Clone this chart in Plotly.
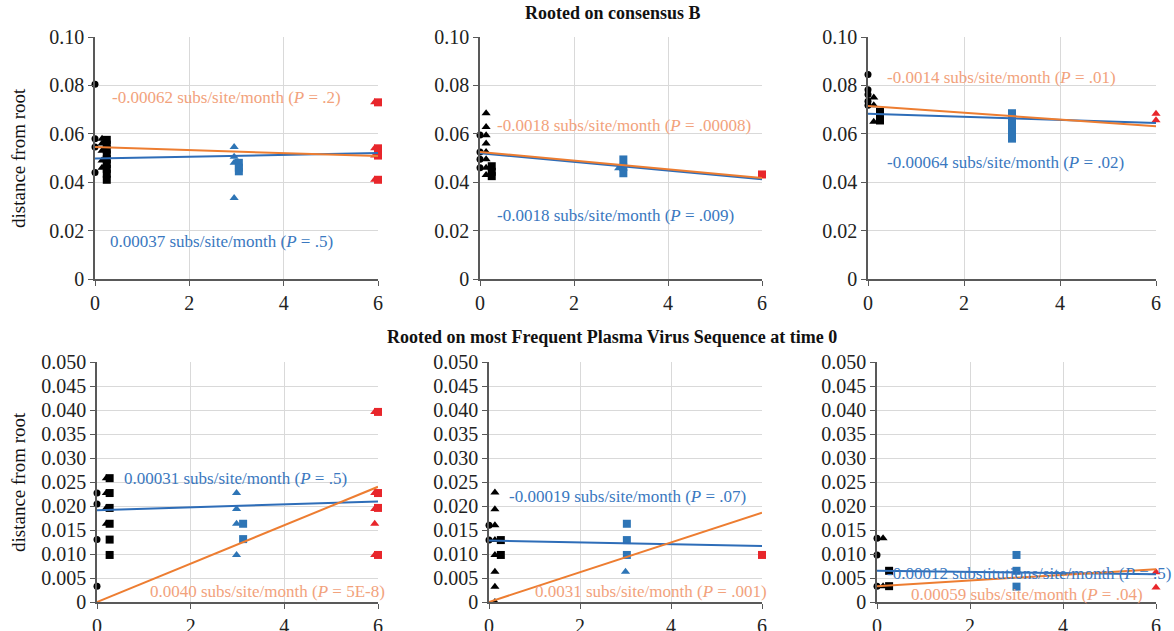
import plotly.graph_objects as go

W, H = 1174, 631

# ---------------- data (months, distance from root) ----------------
# Top row: rooted on consensus B
tl_t0_circle_x = [0, 0, 0, 0]
tl_t0_circle_y = [0.0805, 0.058, 0.0545, 0.044]
tl_t0_tri_x = [0.15, 0.15, 0.15, 0.15, 0.15]
tl_t0_tri_y = [0.058, 0.056, 0.053, 0.049, 0.046]
tl_t0_sq_x = [0.25] * 9
tl_t0_sq_y = [0.0575, 0.0555, 0.0535, 0.0515, 0.0495, 0.0475, 0.0455, 0.0435, 0.041]
tl_m3_tri_x = [2.95, 2.95, 2.95, 2.95]
tl_m3_tri_y = [0.0545, 0.0505, 0.048, 0.0335]
tl_m3_sq_x = [3.05, 3.05, 3.05]
tl_m3_sq_y = [0.048, 0.046, 0.0445]
tl_m6_tri_x = [5.93, 5.93, 5.93, 5.93]
tl_m6_tri_y = [0.073, 0.054, 0.051, 0.041]
tl_m6_sq_x = [6.0, 6.0, 6.0, 6.0]
tl_m6_sq_y = [0.073, 0.054, 0.051, 0.041]

tm_t0_circle_x = [0, 0, 0, 0]
tm_t0_circle_y = [0.0595, 0.0525, 0.0495, 0.046]
tm_t0_tri_x = [0.13] * 8
tm_t0_tri_y = [0.0685, 0.0628, 0.0594, 0.056, 0.0525, 0.0495, 0.046, 0.043]
tm_t0_sq_x = [0.25, 0.25, 0.25]
tm_t0_sq_y = [0.0466, 0.0443, 0.0425]
tm_m3_tri_x = [2.95]
tm_m3_tri_y = [0.0458]
tm_m3_sq_x = [3.05, 3.05, 3.05]
tm_m3_sq_y = [0.0494, 0.0463, 0.0437]
tm_m6_tri_x = []
tm_m6_tri_y = []
tm_m6_sq_x = [6.0]
tm_m6_sq_y = [0.0432]

tr_t0_circle_x = [0, 0, 0, 0, 0]
tr_t0_circle_y = [0.0845, 0.0782, 0.0762, 0.0735, 0.0718]
tr_t0_tri_x = [0.12, 0.12, 0.12]
tr_t0_tri_y = [0.075, 0.0718, 0.065]
tr_t0_sq_x = [0.25, 0.25, 0.25]
tr_t0_sq_y = [0.069, 0.0672, 0.0655]
tr_m3_tri_x = []
tr_m3_tri_y = []
tr_m3_sq_x = [3.0] * 5
tr_m3_sq_y = [0.0685, 0.066, 0.0635, 0.0605, 0.058]
tr_m6_tri_x = [6.0, 6.0]
tr_m6_tri_y = [0.0683, 0.0656]
tr_m6_sq_x = []
tr_m6_sq_y = []

# Bottom row: rooted on most frequent plasma virus sequence at time 0
bl_t0_circle_x = [0, 0, 0, 0]
bl_t0_circle_y = [0.0227, 0.0204, 0.013, 0.0033]
bl_t0_tri_x = [0.2, 0.2, 0.2, 0.2]
bl_t0_tri_y = [0.0258, 0.0227, 0.0196, 0.0163]
bl_t0_sq_x = [0.27] * 6
bl_t0_sq_y = [0.0258, 0.0227, 0.0196, 0.0163, 0.013, 0.0098]
bl_m3_tri_x = [2.98, 2.98, 2.98, 2.98]
bl_m3_tri_y = [0.0227, 0.0194, 0.0163, 0.0098]
bl_m3_sq_x = [3.12, 3.12]
bl_m3_sq_y = [0.0163, 0.0131]
bl_m6_tri_x = [5.93] * 5
bl_m6_tri_y = [0.0396, 0.0227, 0.0194, 0.0163, 0.0098]
bl_m6_sq_x = [6.0] * 4
bl_m6_sq_y = [0.0396, 0.0227, 0.0196, 0.0098]

bm_t0_circle_x = [0, 0]
bm_t0_circle_y = [0.016, 0.0129]
bm_t0_tri_x = [0.13] * 8
bm_t0_tri_y = [0.0228, 0.0193, 0.016, 0.0129, 0.0098, 0.0063, 0.0032, 0.0]
bm_t0_sq_x = [0.26, 0.26]
bm_t0_sq_y = [0.0129, 0.0098]
bm_m3_tri_x = [3.0]
bm_m3_tri_y = [0.0063]
bm_m3_sq_x = [3.03, 3.03, 3.03]
bm_m3_sq_y = [0.0163, 0.0129, 0.0098]
bm_m6_tri_x = []
bm_m6_tri_y = []
bm_m6_sq_x = [6.0]
bm_m6_sq_y = [0.0098]

br_t0_circle_x = [0, 0, 0]
br_t0_circle_y = [0.0133, 0.0098, 0.0033]
br_t0_tri_x = [0.13, 0.13]
br_t0_tri_y = [0.0133, 0.0033]
br_t0_sq_x = [0.26, 0.26]
br_t0_sq_y = [0.0065, 0.0033]
br_m3_tri_x = []
br_m3_tri_y = []
br_m3_sq_x = [3.0, 3.0, 3.0]
br_m3_sq_y = [0.0098, 0.0065, 0.0032]
br_m6_tri_x = [6.0, 6.0]
br_m6_tri_y = [0.0062, 0.003]
br_m6_sq_x = []
br_m6_sq_y = []

# regression fits: intercept, slope (subs/site/month)
tl_fit_orange = (0.0545, -0.00062)
tl_fit_blue = (0.0498, 0.00037)
tm_fit_orange = (0.0525, -0.0018)
tm_fit_blue = (0.0520, -0.0018)
tr_fit_orange = (0.0715, -0.0014)
tr_fit_blue = (0.0683, -0.00064)
bl_fit_orange = (0.0, 0.0040)
bl_fit_blue = (0.0191, 0.00031)
bm_fit_orange = (0.0, 0.0031)
bm_fit_blue = (0.0128, -0.00019)
br_fit_orange = (0.0033, 0.00059)
br_fit_blue = (0.0065, -0.00012)

fit_x = [0, 6]

tl_label_orange = "-0.00062 subs/site/month (<i>P</i> = .2)"
tl_label_blue = "0.00037 subs/site/month (<i>P</i> = .5)"
tm_label_orange = "-0.0018 subs/site/month (<i>P</i> = .00008)"
tm_label_blue = "-0.0018 subs/site/month (<i>P</i> = .009)"
tr_label_orange = "-0.0014 subs/site/month (<i>P</i> = .01)"
tr_label_blue = "-0.00064 subs/site/month (<i>P</i> = .02)"
bl_label_blue = "0.00031 subs/site/month (<i>P</i> = .5)"
bl_label_orange = "0.0040 subs/site/month (<i>P</i> = 5E-8)"
bm_label_blue = "-0.00019 subs/site/month (<i>P</i> = .07)"
bm_label_orange = "0.0031 subs/site/month (<i>P</i> = .001)"
br_label_blue = "-0.00012 substitutions/site/month (<i>P</i> = .5)"
br_label_orange = "0.00059 subs/site/month (<i>P</i> = .04)"

top_title = "Rooted on consensus B"
bottom_title = "Rooted on most Frequent Plasma Virus Sequence at time 0"
y_title = "distance from root"

top_yticks = [0, 0.02, 0.04, 0.06, 0.08, 0.10]
top_yticktext = ["0", "0.02", "0.04", "0.06", "0.08", "0.10"]
bot_yticks = [0, 0.005, 0.01, 0.015, 0.02, 0.025, 0.03, 0.035, 0.04, 0.045, 0.05]
bot_yticktext = ["0", "0.005", "0.010", "0.015", "0.020", "0.025", "0.030",
                 "0.035", "0.040", "0.045", "0.050"]
xticks = [0, 2, 4, 6]

# ---------------- styling ----------------
FONT = "Liberation Serif"
BLACK = "#000000"
BLUE_M = "#2E75B6"
RED_M = "#E8262B"
ORANGE_L = "#ED7D31"
BLUE_L = "#2E6DB8"
ORANGE_T = "#F2A27C"
BLUE_T = "#3A78C0"
AX = "#595959"
GRID = "#D9D9D9"
TICK_SIZE = 20
NOTE_SIZE = 17


def px(x):
    return x / W


def py(y):
    return 1 - y / H


# panel pixel boxes: (x_left, x_right, y_top, y_bottom)
boxes = [
    (95, 378, 37, 279), (480, 762, 37, 279), (868, 1156, 37, 279),
    (97, 378, 362, 602), (489, 762, 362, 602), (877, 1156, 362, 602),
]

panels = [
    dict(pts=[(tl_t0_circle_x, tl_t0_circle_y, BLACK, "circle"),
              (tl_t0_tri_x, tl_t0_tri_y, BLACK, "triangle-up"),
              (tl_t0_sq_x, tl_t0_sq_y, BLACK, "square"),
              (tl_m3_tri_x, tl_m3_tri_y, BLUE_M, "triangle-up"),
              (tl_m3_sq_x, tl_m3_sq_y, BLUE_M, "square"),
              (tl_m6_tri_x, tl_m6_tri_y, RED_M, "triangle-up"),
              (tl_m6_sq_x, tl_m6_sq_y, RED_M, "square")],
         fits=[tl_fit_blue, tl_fit_orange],
         labels=[(tl_label_orange, ORANGE_T, 0.32, 0.0751), (tl_label_blue, BLUE_T, 0.28, 0.0157)]),
    dict(pts=[(tm_t0_circle_x, tm_t0_circle_y, BLACK, "circle"),
              (tm_t0_tri_x, tm_t0_tri_y, BLACK, "triangle-up"),
              (tm_t0_sq_x, tm_t0_sq_y, BLACK, "square"),
              (tm_m3_tri_x, tm_m3_tri_y, BLUE_M, "triangle-up"),
              (tm_m3_sq_x, tm_m3_sq_y, BLUE_M, "square"),
              (tm_m6_tri_x, tm_m6_tri_y, RED_M, "triangle-up"),
              (tm_m6_sq_x, tm_m6_sq_y, RED_M, "square")],
         fits=[tm_fit_blue, tm_fit_orange],
         labels=[(tm_label_orange, ORANGE_T, 0.32, 0.0635), (tm_label_blue, BLUE_T, 0.32, 0.0264)]),
    dict(pts=[(tr_t0_circle_x, tr_t0_circle_y, BLACK, "circle"),
              (tr_t0_tri_x, tr_t0_tri_y, BLACK, "triangle-up"),
              (tr_t0_sq_x, tr_t0_sq_y, BLACK, "square"),
              (tr_m3_tri_x, tr_m3_tri_y, BLUE_M, "triangle-up"),
              (tr_m3_sq_x, tr_m3_sq_y, BLUE_M, "square"),
              (tr_m6_tri_x, tr_m6_tri_y, RED_M, "triangle-up"),
              (tr_m6_sq_x, tr_m6_sq_y, RED_M, "square")],
         fits=[tr_fit_blue, tr_fit_orange],
         labels=[(tr_label_orange, ORANGE_T, 0.35, 0.0833), (tr_label_blue, BLUE_T, 0.35, 0.0482)]),
    dict(pts=[(bl_t0_circle_x, bl_t0_circle_y, BLACK, "circle"),
              (bl_t0_tri_x, bl_t0_tri_y, BLACK, "triangle-up"),
              (bl_t0_sq_x, bl_t0_sq_y, BLACK, "square"),
              (bl_m3_tri_x, bl_m3_tri_y, BLUE_M, "triangle-up"),
              (bl_m3_sq_x, bl_m3_sq_y, BLUE_M, "square"),
              (bl_m6_tri_x, bl_m6_tri_y, RED_M, "triangle-up"),
              (bl_m6_sq_x, bl_m6_sq_y, RED_M, "square")],
         fits=[bl_fit_blue, bl_fit_orange],
         labels=[(bl_label_blue, BLUE_T, 0.53, 0.0258), (bl_label_orange, ORANGE_T, 1.09, 0.0021)]),
    dict(pts=[(bm_t0_circle_x, bm_t0_circle_y, BLACK, "circle"),
              (bm_t0_tri_x, bm_t0_tri_y, BLACK, "triangle-up"),
              (bm_t0_sq_x, bm_t0_sq_y, BLACK, "square"),
              (bm_m3_tri_x, bm_m3_tri_y, BLUE_M, "triangle-up"),
              (bm_m3_sq_x, bm_m3_sq_y, BLUE_M, "square"),
              (bm_m6_tri_x, bm_m6_tri_y, RED_M, "triangle-up"),
              (bm_m6_sq_x, bm_m6_sq_y, RED_M, "square")],
         fits=[bm_fit_blue, bm_fit_orange],
         labels=[(bm_label_blue, BLUE_T, 0.40, 0.0219), (bm_label_orange, ORANGE_T, 0.97, 0.0021)]),
    dict(pts=[(br_t0_circle_x, br_t0_circle_y, BLACK, "circle"),
              (br_t0_tri_x, br_t0_tri_y, BLACK, "triangle-up"),
              (br_t0_sq_x, br_t0_sq_y, BLACK, "square"),
              (br_m3_tri_x, br_m3_tri_y, BLUE_M, "triangle-up"),
              (br_m3_sq_x, br_m3_sq_y, BLUE_M, "square"),
              (br_m6_tri_x, br_m6_tri_y, RED_M, "triangle-up"),
              (br_m6_sq_x, br_m6_sq_y, RED_M, "square")],
         fits=[br_fit_blue, br_fit_orange],
         labels=[(br_label_blue, BLUE_T, 0.17, 0.0060), (br_label_orange, ORANGE_T, 0.69, 0.0015)]),
]

fig = go.Figure()
annotations = []
layout_axes = {}
sizes = {"circle": 7, "triangle-up": 8, "square": 8}

for i, (panel, box) in enumerate(zip(panels, boxes)):
    n = i + 1
    xa = "x" if n == 1 else f"x{n}"
    ya = "y" if n == 1 else f"y{n}"
    top = i < 3
    for xs, ys, col, sym in panel["pts"]:
        if not xs:
            continue
        fig.add_trace(go.Scatter(x=xs, y=ys, mode="markers", xaxis=xa, yaxis=ya,
                                 marker=dict(color=col, symbol=sym, size=sizes[sym], line=dict(width=0)),
                                 cliponaxis=False, showlegend=False, hoverinfo="x+y"))
    for (b, m), col in zip(panel["fits"], [BLUE_L, ORANGE_L]):
        fig.add_trace(go.Scatter(x=fit_x, y=[b + m * xv for xv in fit_x], mode="lines",
                                 xaxis=xa, yaxis=ya, line=dict(color=col, width=2),
                                 cliponaxis=False, showlegend=False))
    for text, col, ax_, ay_ in panel["labels"]:
        annotations.append(dict(text=text, x=ax_, y=ay_, xref=xa, yref=ya,
                                xanchor="left", yanchor="middle", showarrow=False,
                                font=dict(family=FONT, size=NOTE_SIZE, color=col)))
    xl, xr, yt, yb = box
    layout_axes["xaxis" if n == 1 else f"xaxis{n}"] = dict(
        domain=[px(xl), px(xr)], anchor=ya, range=[0, 6], tickvals=xticks,
        automargin=False,
        showgrid=True, gridcolor=GRID, gridwidth=1, zeroline=False,
        showline=True, linecolor=AX, linewidth=1.5, ticks="outside", ticklen=5,
        tickcolor=AX, tickfont=dict(family=FONT, size=TICK_SIZE, color="#222222"), fixedrange=True)
    layout_axes["yaxis" if n == 1 else f"yaxis{n}"] = dict(
        domain=[py(yb), py(yt)], anchor=xa,
        automargin=False,
        range=[0, 0.10] if top else [0, 0.05],
        tickvals=top_yticks if top else bot_yticks,
        ticktext=top_yticktext if top else bot_yticktext,
        showgrid=True, gridcolor=GRID, gridwidth=1, zeroline=False,
        showline=True, linecolor=AX, linewidth=1.5, ticks="outside", ticklen=5,
        tickcolor=AX, tickfont=dict(family=FONT, size=TICK_SIZE, color="#222222"), fixedrange=True)

annotations.append(dict(text=f"<b>{top_title}</b>", x=px(523), y=py(13), xref="paper", yref="paper",
                        xanchor="left", yanchor="middle", showarrow=False,
                        font=dict(family=FONT, size=18, color="#111111")))
annotations.append(dict(text=f"<b>{bottom_title}</b>", x=px(612), y=py(337), xref="paper", yref="paper",
                        xanchor="center", yanchor="middle", showarrow=False,
                        font=dict(family=FONT, size=18, color="#111111")))
for yc in (158, 482):
    annotations.append(dict(text=y_title, x=px(18), y=py(yc), xref="paper", yref="paper",
                            xanchor="center", yanchor="middle", textangle=-90, showarrow=False,
                            font=dict(family=FONT, size=19, color="#111111")))

fig.update_layout(width=W, height=H, margin=dict(l=0, r=0, t=0, b=0, autoexpand=False),
                  paper_bgcolor="white", plot_bgcolor="white",
                  annotations=annotations, showlegend=False, **layout_axes)

fig.write_html("out.html", config={"displayModeBar": False},
               post_script="document.body.style.margin='0';document.body.style.padding='0';")
